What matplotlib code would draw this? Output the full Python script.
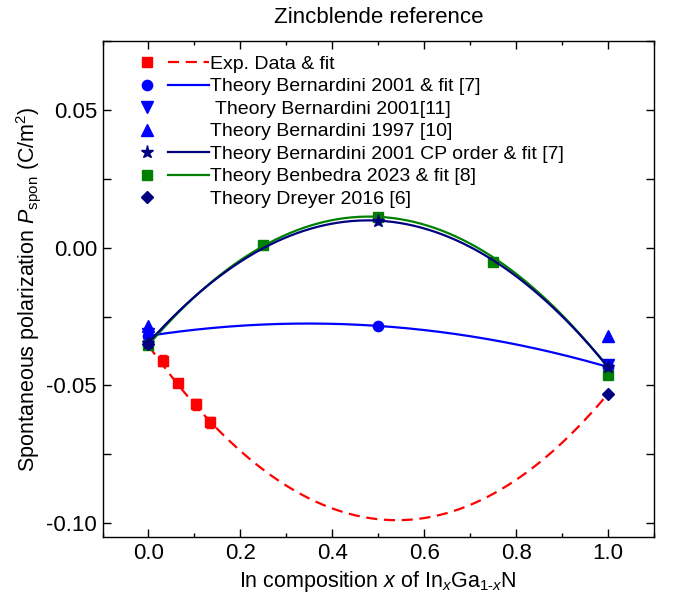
import numpy as np
import matplotlib
matplotlib.use("Agg")
import matplotlib.pyplot as plt
from matplotlib.lines import Line2D
from matplotlib.legend_handler import HandlerTuple
from matplotlib.ticker import MultipleLocator

plt.rcParams['font.family'] = ['Liberation Sans', 'DejaVu Sans']
plt.rcParams['mathtext.fontset'] = 'custom'
plt.rcParams['mathtext.rm'] = 'Liberation Sans'
plt.rcParams['mathtext.it'] = 'Liberation Sans:italic'
plt.rcParams['axes.unicode_minus'] = False

# experimental data (x, P_spon, error)
exp_x = [0.031, 0.064, 0.104, 0.133]
exp_y = [-0.0411, -0.0491, -0.0569, -0.0634]
exp_err = [0.002, 0.0015, 0.002, 0.002]

# theory points
bern01_x = [0.0, 0.5, 1.0]
bern01_y = [-0.032, -0.0284, -0.0433]
bern01b_x = [0.0, 1.0]
bern01b_y = [-0.0315, -0.0424]
bern97_x = [0.0, 1.0]
bern97_y = [-0.0285, -0.032]
bern_cp_x = [0.0, 0.5, 1.0]
bern_cp_y = [-0.0345, 0.0098, -0.0433]
benb_x = [0.0, 0.25, 0.5, 0.75, 1.0]
benb_y = [-0.0353, 0.001, 0.011, -0.0052, -0.0461]
dreyer_x = [0.0, 1.0]
dreyer_y = [-0.035, -0.053]

# fits: P(GaN), P(InN), bowing
exp_fit = [-0.0355, -0.053, 0.2172]
bern01_fit = [-0.032, -0.0433, -0.037]
bern_cp_fit = [-0.0345, -0.0433, -0.1948]
benb_fit = [-0.0353, -0.0435, -0.2024]


def bowing(p, x):
    return (1 - x) * p[0] + x * p[1] - p[2] * x * (1 - x)


RED = '#ff0000'
BLUE = '#0000ff'
NAVY = '#000080'
GREEN = '#008000'

xs = np.linspace(0, 1, 200)

fig = plt.figure(figsize=(6.74, 5.95), dpi=100)
ax = fig.add_axes([102.5 / 674, 1 - 537 / 595, 551.5 / 674, 496 / 595])

ax.plot(xs, bowing(exp_fit, xs), color=RED, lw=1.6, dashes=(5, 3))
ax.errorbar(exp_x, exp_y, yerr=exp_err, fmt='s', color=RED, ms=7, capsize=3, elinewidth=1, capthick=1)

ax.plot(xs, bowing(bern01_fit, xs), color=BLUE, lw=1.6)
ax.plot(bern01_x, bern01_y, 'o', color=BLUE, ms=7.4)
ax.plot(bern01b_x, bern01b_y, 'v', color=BLUE, ms=9)
ax.plot(bern97_x, bern97_y, '^', color=BLUE, ms=9)

ax.plot(xs, bowing(benb_fit, xs), color=GREEN, lw=1.6)
ax.plot(benb_x, benb_y, 's', color=GREEN, ms=7)
ax.plot(xs, bowing(bern_cp_fit, xs), color=NAVY, lw=1.6)
ax.plot(bern_cp_x, bern_cp_y, '*', color=NAVY, ms=9.5)
ax.plot(dreyer_x, dreyer_y, 'D', color=NAVY, ms=6.5)

ax.set_xlim(-0.1, 1.1)
ax.set_ylim(-0.105, 0.075)
ax.xaxis.set_major_locator(MultipleLocator(0.2))
ax.xaxis.set_minor_locator(MultipleLocator(0.1))
ax.yaxis.set_major_locator(MultipleLocator(0.05))
ax.yaxis.set_minor_locator(MultipleLocator(0.025))
ax.xaxis.set_major_formatter(lambda v, p: f"{v:.1f}")
ax.yaxis.set_major_formatter(lambda v, p: f"{v:.2f}")
ax.tick_params(which='both', direction='in', top=True, right=True, width=1, labelsize=16)
ax.tick_params(which='major', length=5.5, pad=4)
ax.tick_params(axis='x', which='minor', length=3)
ax.tick_params(axis='y', which='minor', length=5.5)
for s in ax.spines.values():
    s.set_linewidth(1.0)

ax.set_title('Zincblende reference', fontsize=16, pad=13)
ax.set_xlabel(r'In composition $\it{x}$ of In$_{\it{x}}$Ga$_{1\text{-}\it{x}}$N', fontsize=15.5)
ax.set_ylabel(r'Spontaneous polarization $\it{P}_{\mathrm{spon}}$ (C/m$^2$)', fontsize=15.5,
              labelpad=2)


def mk(marker, color, ms):
    return Line2D([], [], marker=marker, color=color, ms=ms, ls='none')


def ln(color, ls='-'):
    if ls == '--':
        return Line2D([], [], color=color, lw=1.6, dashes=(5, 3))
    return Line2D([], [], color=color, lw=1.6, ls=ls)


blank = Line2D([], [], ls='none')
handles = [
    (mk('s', RED, 7), ln(RED, '--')),
    (mk('o', BLUE, 7.4), ln(BLUE)),
    (mk('v', BLUE, 9), blank),
    (mk('^', BLUE, 9), blank),
    (mk('*', NAVY, 9.5), ln(NAVY)),
    (mk('s', GREEN, 7), ln(GREEN)),
    (mk('D', NAVY, 6.5), blank),
]
labels = [
    'Exp. Data & fit',
    'Theory Bernardini 2001 & fit [7]',
    ' Theory Bernardini 2001[11]',
    'Theory Bernardini 1997 [10]',
    'Theory Bernardini 2001 CP order & fit [7]',
    'Theory Benbedra 2023 & fit [8]',
    'Theory Dreyer 2016 [6]',
]
ax.legend(handles, labels, handler_map={tuple: HandlerTuple(ndivide=None, pad=0)},
          loc='upper left', bbox_to_anchor=(0.043, 0.971), frameon=False,
          fontsize=14, handlelength=4.28, handletextpad=0.05, labelspacing=0.25,
          borderpad=0, borderaxespad=0, handleheight=0.7)

fig.savefig('out.png', dpi=100)
